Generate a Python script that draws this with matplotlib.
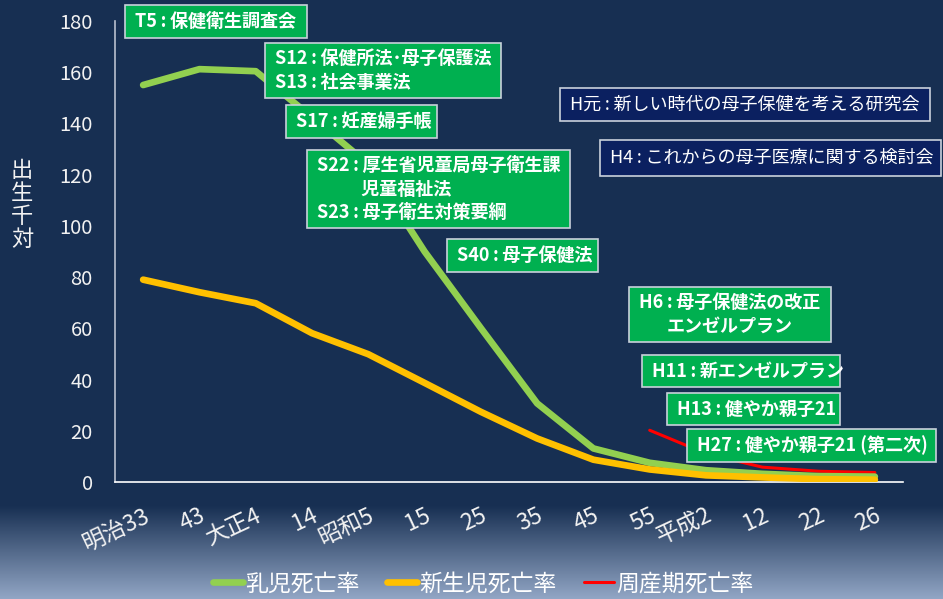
import numpy as np
import matplotlib
matplotlib.use("Agg")
import matplotlib.pyplot as plt
from matplotlib.patches import Rectangle

plt.rcParams['font.family'] = ['Noto Sans CJK JP', 'DejaVu Sans']

# 年次（明治33年〜平成26年）
years = ['明治33', '43', '大正4', '14', '昭和5', '15', '25', '35', '45', '55',
         '平成2', '12', '22', '26']
# 出生千対
infant = [155.0, 161.2, 160.4, 142.4, 124.1, 90.0, 60.1, 30.7, 13.1, 7.5,
          4.6, 3.2, 2.3, 2.1]
neonatal = [79.0, 74.1, 69.8, 58.1, 49.9, 38.7, 27.4, 17.0, 8.7, 4.9,
            2.6, 1.8, 1.1, 0.9]
perinatal = [np.nan, np.nan, np.nan, np.nan, np.nan, np.nan, np.nan, np.nan, np.nan,
             20.2, 11.1, 5.8, 4.2, 3.7]
series_names = ['乳児死亡率', '新生児死亡率', '周産期死亡率']

# 施策の年表（コロンの前後は細いスペース）
C = '\u2009:\u2009'
policies = [
    'T5' + C + '保健衛生調査会',
    'S12' + C + '保健所法･母子保護法\nS13' + C + '社会事業法',
    'S17' + C + '妊産婦手帳',
    'S22' + C + '厚生省児童局母子衛生課\n　　  児童福祉法\nS23' + C + '母子衛生対策要綱',
    'S40' + C + '母子保健法',
    'H6' + C + '母子保健法の改正\nエンゼルプラン',
    'H11' + C + '新エンゼルプラン',
    'H13' + C + '健やか親子21',
    'H27' + C + '健やか親子21 (第二次)',
]
councils = [
    'H元' + C + '新しい時代の母子保健を考える研究会',
    'H4' + C + 'これからの母子医療に関する検討会',
]

W, H = 943, 599
BG = '#172F52'
fig = plt.figure(figsize=(W / 100, H / 100), dpi=100)

# background with a lighter band at the bottom
bg = fig.add_axes([0, 0, 1, 1], zorder=-10)
top = np.array([0x17, 0x2F, 0x52]) / 255
bottom = np.array([0x93, 0xA7, 0xC6]) / 255
t = np.clip((np.arange(H) - 505) / (H - 505), 0, 1)[:, None]
grad = top * (1 - t) + bottom * t
bg.imshow(grad[:, None, :], aspect='auto', extent=[0, 1, 0, 1])
bg.axis('off')


def fx(x):
    return x / W


def fy(y):
    return 1 - y / H


ax = fig.add_axes([fx(115), fy(482), fx(903) - fx(115), fy(21) - fy(482)])
ax.set_facecolor('none')
x = np.arange(len(years))
ax.plot(x, perinatal, color='#FF0000', lw=2.2, solid_capstyle='round', label=series_names[2], zorder=2)
ax.plot(x, infant, color='#92D050', lw=4.8, solid_capstyle='round', solid_joinstyle='round',
        label=series_names[0], zorder=3)
ax.plot(x, neonatal, color='#FFC000', lw=4.8, solid_capstyle='round', solid_joinstyle='round',
        label=series_names[1], zorder=4)

ax.set_xlim(-0.5, len(years) - 0.5)
ax.set_ylim(0, 180)
ax.set_yticks(range(0, 181, 20))
ax.set_xticks(x)
ax.set_xticklabels(years, rotation=25, ha='right', va='top', rotation_mode='anchor')
ax.tick_params(axis='y', length=0, pad=16, labelsize=14.5, labelcolor='#F2F2F2')
ax.tick_params(axis='x', length=0, pad=16, labelsize=16.5, labelcolor='#F2F2F2')
for side in ('top', 'right'):
    ax.spines[side].set_visible(False)
ax.spines['left'].set_color('#B8C0CE')
ax.spines['left'].set_linewidth(1.2)
ax.spines['bottom'].set_color('#FFFFFF')
ax.spines['bottom'].set_linewidth(1.2)

fig.text(fx(22), fy(205), '出\n生\n千\n対', color='#F2F2F2', fontsize=16,
         ha='center', va='center', linespacing=1.0)

# legend
handles = [ax.lines[1], ax.lines[2], ax.lines[0]]
fig.legend(handles, series_names, loc='center', bbox_to_anchor=(fx(483), fy(584)),
           ncol=3, frameon=False, fontsize=16.5, labelcolor='white',
           handlelength=1.3, handletextpad=0.1, columnspacing=1.2)

# policy boxes (x0, y0, x1, y1 in pixels)
policy_boxes = [
    (125, 5, 307, 38),
    (265, 43, 501, 98),
    (286, 105, 437, 138),
    (307, 150, 570, 228),
    (447, 239, 598, 272),
    (629, 287, 831, 342),
    (642, 355, 840, 387),
    (667, 393, 840, 425),
    (687, 429, 936, 462),
]
council_boxes = [
    (560, 88, 930, 121),
    (600, 140, 941, 176),
]


def draw_box(box, text, face, weight, centered=False):
    x0, y0, x1, y1 = box
    fig.add_artist(Rectangle((fx(x0), fy(y1)), fx(x1) - fx(x0), fy(y0) - fy(y1),
                             transform=fig.transFigure, facecolor=face,
                             edgecolor='#C9D1DB', lw=1.2, zorder=5))
    if centered:
        fig.text(fx((x0 + x1) / 2), fy((y0 + y1) / 2), text, color='white', fontsize=13,
                 fontweight=weight, ha='center', va='center', multialignment='center',
                 linespacing=1.3, zorder=6)
    else:
        fig.text(fx(x0 + 10), fy((y0 + y1) / 2), text, color='white', fontsize=13,
                 fontweight=weight, ha='left', va='center', linespacing=1.3, zorder=6)


for i, (box, text) in enumerate(zip(policy_boxes, policies)):
    draw_box(box, text, '#00B050', 'bold', centered=(i == 5))
for box, text in zip(council_boxes, councils):
    draw_box(box, text, '#0B2060', 'normal')

fig.savefig('out.png', dpi=100, facecolor=BG)
